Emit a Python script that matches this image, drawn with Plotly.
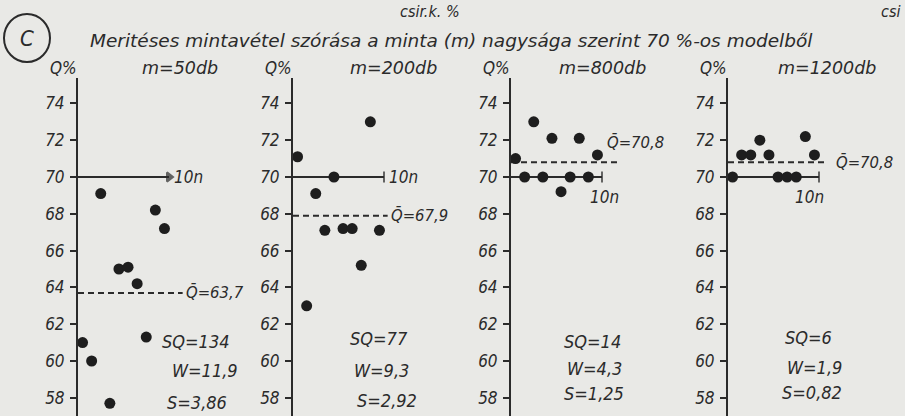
import plotly.graph_objects as go

# ---- data -------------------------------------------------------------
sample_n = list(range(1, 11))                      # ten repeated samples ("10n")
panel_titles = ["m=50db", "m=200db", "m=800db", "m=1200db"]

q_m50 = [61.0, 60.0, 69.1, 57.7, 65.0, 65.1, 64.2, 61.3, 68.2, 67.2]
q_m200 = [71.1, 63.0, 69.1, 67.1, 70.0, 67.2, 67.2, 65.2, 73.0, 67.1]
q_m800 = [71.0, 70.0, 73.0, 70.0, 72.1, 69.2, 70.0, 72.1, 70.0, 71.2]
q_m1200 = [70.0, 71.2, 71.2, 72.0, 71.2, 70.0, 70.0, 70.0, 72.2, 71.2]
series = [q_m50, q_m200, q_m800, q_m1200]

model_q = 70.0                                      # 70 % model value
mean_q = [63.7, 67.9, 70.8, 70.8]
mean_labels = ["63,7", "67,9", "70,8", "70,8"]
sq_labels = ["134", "77", "14", "6"]
w_labels = ["11,9", "9,3", "4,3", "1,9"]
s_labels = ["3,86", "2,92", "1,25", "0,82"]
y_ticks = [58, 60, 62, 64, 66, 68, 70, 72, 74]

# ---- layout helpers ---------------------------------------------------
W, H = 905, 416
INK = "#2b2b2b"
PAPER = "#e9e9e6"
FONT = "DejaVu Sans Condensed, DejaVu Sans, sans-serif"
FONT_WIDE = "DejaVu Sans, sans-serif"

axis_px = [78, 293, 511, 728]          # left edge (vertical axis) of each panel
panel_w = 150                          # width of each panel's x domain, px
unit_px = 9.1                          # px per sample step
y_top_px, y70_px, per_unit = 78, 177, 18.4
y_range = [model_q - (H - y70_px) / per_unit, model_q + (y70_px - y_top_px) / per_unit]
x_range = [0.5, 0.5 + panel_w / unit_px]
mean_line_end = [12.0, 10.9, 12.3, 11.4]   # right end of the dashed mean line


def px(x):
    return x / W


def py(y):
    return 1 - y / H


def txt(size, family=FONT):
    return dict(family=family, size=size, color=INK, style="italic")


fig = go.Figure()
annotations = []

for i, q in enumerate(series):
    xa = "x" if i == 0 else f"x{i + 1}"
    ya = "y" if i == 0 else f"y{i + 1}"
    xkey = "xaxis" if i == 0 else f"xaxis{i + 1}"
    ykey = "yaxis" if i == 0 else f"yaxis{i + 1}"

    fig.update_layout({
        xkey: dict(domain=[px(axis_px[i]), px(axis_px[i] + panel_w)], range=x_range,
                   visible=False, anchor=ya, fixedrange=True),
        ykey: dict(domain=[0, py(y_top_px)], range=y_range, anchor=xa,
                   showline=True, linecolor=INK, linewidth=2, mirror=False,
                   showgrid=False, zeroline=False, ticks="outside", ticklen=6,
                   tickwidth=1.5, tickcolor=INK, tickvals=y_ticks,
                   tickfont=txt(17), ticklabelstandoff=2, fixedrange=True),
    })

    # model (70 %) line across the ten samples
    end_symbol = "triangle-right" if i == 0 else "line-ns"
    fig.add_trace(go.Scatter(
        x=[0.5, 10.5], y=[model_q, model_q], xaxis=xa, yaxis=ya, mode="lines+markers",
        line=dict(color=INK, width=2),
        marker=dict(symbol=["circle", end_symbol], size=[0, 8], color=INK,
                    line=dict(color=INK, width=2)),
        hoverinfo="skip", showlegend=False, cliponaxis=False))

    # sample mean (dashed)
    fig.add_trace(go.Scatter(
        x=[0.5, mean_line_end[i]], y=[mean_q[i], mean_q[i]], xaxis=xa, yaxis=ya,
        mode="lines", line=dict(color=INK, width=2, dash="6px,4px"),
        hoverinfo="skip", showlegend=False))

    # the ten sample results
    fig.add_trace(go.Scatter(
        x=sample_n, y=q, xaxis=xa, yaxis=ya, mode="markers",
        marker=dict(size=11, color="#1e1e1e"),
        showlegend=False, cliponaxis=True))

    # axis caption
    annotations.append(dict(xref="paper", yref="paper", x=px(axis_px[i] + 1), y=py(68),
                            text="Q%", showarrow=False, xanchor="right",
                            yanchor="middle", font=txt(17)))

# panel headings
heading_dx = [62, 55, 46, 48]
for i, t in enumerate(panel_titles):
    annotations.append(dict(xref="paper", yref="paper", x=px(axis_px[i] + heading_dx[i]),
                            y=py(68), text=t, showarrow=False, xanchor="left",
                            yanchor="middle", font=txt(17.5, FONT_WIDE)))

# labels of the model and mean lines
ten_n_pos = [(10.8, 70.0, "left"), (10.8, 70.0, "left"), (10.8, 68.9, "center"),
             (9.5, 68.9, "center")]
mean_pos = [(12.1, 63.7, "left"), (11.0, 67.9, "left"), (10.8, 71.85, "left"),
            (12.1, 70.8, "left")]
for i in range(4):
    xa = "x" if i == 0 else f"x{i + 1}"
    ya = "y" if i == 0 else f"y{i + 1}"
    x, y, anc = ten_n_pos[i]
    annotations.append(dict(xref=xa, yref=ya, x=x, y=y, text="10n", showarrow=False,
                            xanchor=anc, yanchor="middle", font=txt(17)))
    x, y, anc = mean_pos[i]
    annotations.append(dict(xref=xa, yref=ya, x=x, y=y,
                            text="Q\u0304=" + mean_labels[i], showarrow=False,
                            xanchor=anc, yanchor="middle", font=txt(16.5)))

# SQ / W / S statistics in the lower part of each panel
stat_x = [(160, 170, 165), (348, 352, 355), (562, 565, 562), (783, 785, 780)]
stat_y = [(341, 370, 402), (338, 370, 400), (341, 368, 393), (337, 367, 392)]
for i in range(4):
    lines = ["SQ=" + sq_labels[i], "W=" + w_labels[i], "S=" + s_labels[i]]
    for j, line in enumerate(lines):
        annotations.append(dict(xref="paper", yref="paper", x=px(stat_x[i][j]),
                                y=py(stat_y[i][j]), text=line, showarrow=False,
                                xanchor="left", yanchor="middle", font=txt(18)))

# figure heading and page-header fragments
annotations += [
    dict(xref="paper", yref="paper", x=px(88), y=py(40), showarrow=False,
         xanchor="left", yanchor="middle", font=txt(18.5, FONT_WIDE),
         text="Meritéses mintavétel szórása a minta (m) nagysága szerint 70 %-os modelből"),
    dict(xref="paper", yref="paper", x=px(27), y=py(38), text="C", showarrow=False,
         xanchor="center", yanchor="middle", font=txt(22)),
    dict(xref="paper", yref="paper", x=px(398), y=py(11), text="csir.k. %",
         showarrow=False, xanchor="left", yanchor="middle", font=txt(16)),
    dict(xref="paper", yref="paper", x=px(902), y=py(11), text="csi",
         showarrow=False, xanchor="right", yanchor="middle", font=txt(16)),
]

fig.update_layout(
    width=W, height=H, margin=dict(l=0, r=0, t=0, b=0),
    paper_bgcolor=PAPER, plot_bgcolor="rgba(0,0,0,0)",
    annotations=annotations,
    shapes=[dict(type="circle", xref="paper", yref="paper",
                 x0=px(4), x1=px(50), y0=py(62), y1=py(14),
                 line=dict(color=INK, width=2))],
)

fig.write_html("out.html")
